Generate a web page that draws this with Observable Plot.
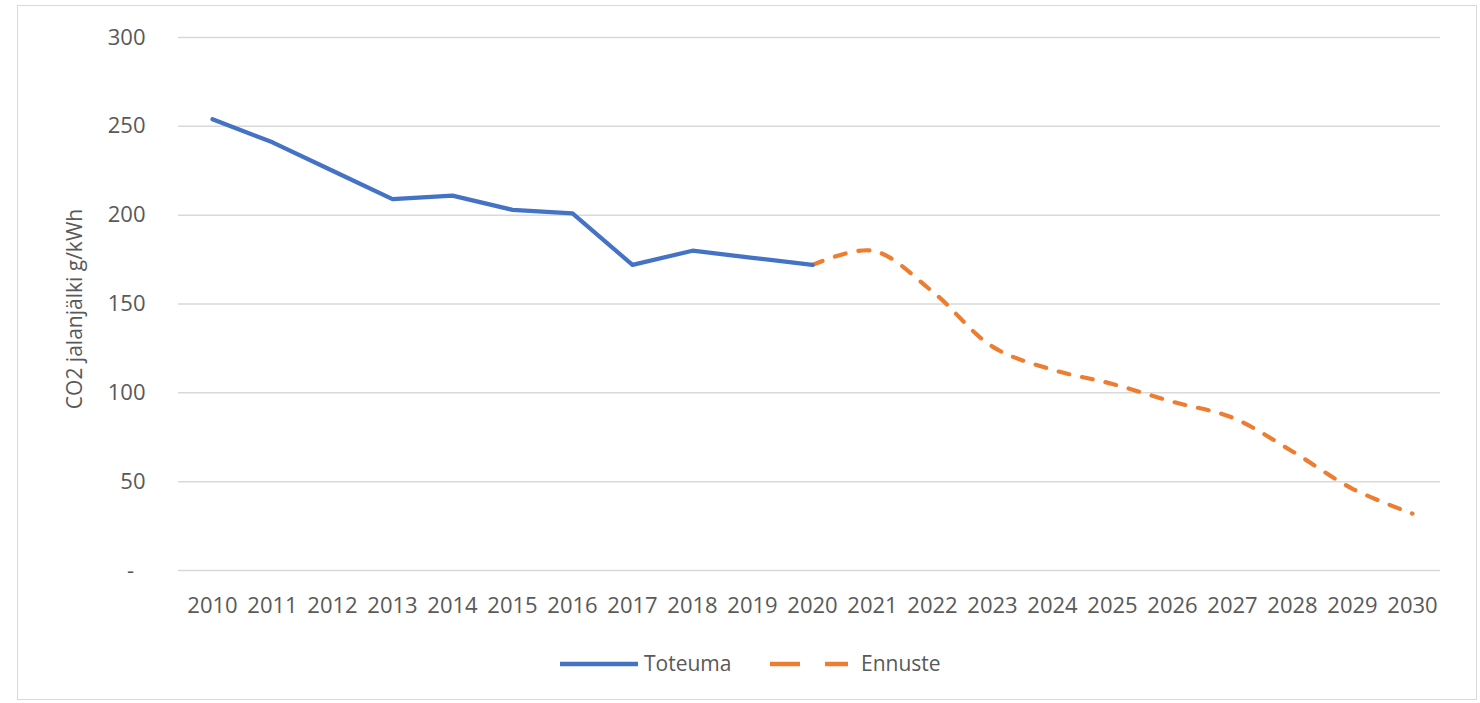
<!DOCTYPE html>
<html>
<head>
<meta charset="utf-8">
<script src="https://cdn.jsdelivr.net/npm/d3@7"></script>
<script src="https://cdn.jsdelivr.net/npm/@observablehq/plot@0.6"></script>
<style>
  html, body { margin: 0; padding: 0; background: #fff; }
  body { width: 1480px; height: 703px; position: relative; overflow: hidden; font-family: "Open Sans", sans-serif; }
  #frame { position: absolute; left: 17px; top: 5px; width: 1460px; height: 695px; border: 1.5px solid #d9d9d9; box-sizing: border-box; }
  #chart { position: absolute; left: 0; top: 0; }
  #legend { position: absolute; left: 0; top: 640px; }
</style>
</head>
<body>
<div id="frame"></div>
<div id="chart"></div>
<div id="legend"></div>
<script>
// ---- Data ----
const years = ["2010","2011","2012","2013","2014","2015","2016","2017","2018","2019","2020",
               "2021","2022","2023","2024","2025","2026","2027","2028","2029","2030"];
const toteumaYears = ["2010","2011","2012","2013","2014","2015","2016","2017","2018","2019","2020"];
const toteumaValues = [254, 241, 225, 209, 211, 203, 201, 172, 180, 176, 172];
const ennusteYears = ["2020","2021","2022","2023","2024","2025","2026","2027","2028","2029","2030"];
const ennusteValues = [172, 180, 157, 126, 113, 105, 95, 86, 67, 46, 32];
const yTicks = [0, 50, 100, 150, 200, 250, 300];
const seriesNames = ["Toteuma", "Ennuste"];
const seriesColors = ["#4472C4", "#ED7D31"];
const yLabel = "CO2 jalanjälki g/kWh";

const toteuma = toteumaYears.map((y, i) => ({year: y, value: toteumaValues[i]}));
const ennuste = ennusteYears.map((y, i) => ({year: y, value: ennusteValues[i]}));

const textColor = "#595959";

const plot = Plot.plot({
  width: 1480,
  height: 640,
  marginLeft: 178,
  marginRight: 40,
  marginTop: 37,
  marginBottom: 70,
  style: {fontFamily: "'Open Sans', sans-serif", fontSize: "22px", color: textColor, background: "transparent"},
  x: {type: "point", domain: years, range: [205, 1418], padding: 0},
  y: {domain: [0, 300], range: [570, 37]},
  marks: [
    Plot.ruleY(yTicks, {stroke: "#d9d9d9", strokeWidth: 1.5}),
    Plot.axisY({ticks: yTicks, tickSize: 0, tickPadding: 33, label: null,
                tickFormat: d => d === 0 ? "-\u00a0\u00a0" : String(d)}),
    Plot.axisX({tickSize: 0, tickPadding: 27, label: null}),
    Plot.text([yLabel], {frameAnchor: "left", dx: -103, dy: 5, rotate: -90,
                         textAnchor: "middle", lineAnchor: "middle", fill: textColor, fontSize: 21}),
    Plot.line(ennuste, {x: "year", y: "value", stroke: seriesColors[1], strokeWidth: 4.2,
                        strokeDasharray: "11 13", strokeLinecap: "round", curve: "catmull-rom"}),
    Plot.line(toteuma, {x: "year", y: "value", stroke: seriesColors[0], strokeWidth: 4.2,
                        strokeLinejoin: "round", curve: "linear"})
  ]
});
document.getElementById("chart").appendChild(plot);

// ---- Legend ----
const ns = "http://www.w3.org/2000/svg";
const leg = document.createElementNS(ns, "svg");
leg.setAttribute("width", 1480);
leg.setAttribute("height", 50);
leg.style.fontFamily = "'Open Sans', sans-serif";
const items = [
  {x1: 560, x2: 638, tx: 644, dash: null},
  {x1: 770, x2: 848, tx: 861, dash: "30 25"}
];
items.forEach((it, i) => {
  const l = document.createElementNS(ns, "line");
  l.setAttribute("x1", it.x1); l.setAttribute("x2", it.x2);
  l.setAttribute("y1", 24); l.setAttribute("y2", 24);
  l.setAttribute("stroke", seriesColors[i]);
  l.setAttribute("stroke-width", 4.5);
  if (it.dash) l.setAttribute("stroke-dasharray", it.dash);
  leg.appendChild(l);
  const t = document.createElementNS(ns, "text");
  t.setAttribute("x", it.tx); t.setAttribute("y", 24);
  t.setAttribute("dy", "0.35em");
  t.setAttribute("fill", textColor);
  t.setAttribute("font-size", 21);
  t.textContent = seriesNames[i];
  leg.appendChild(t);
});
document.getElementById("legend").appendChild(leg);
</script>
</body>
</html>
